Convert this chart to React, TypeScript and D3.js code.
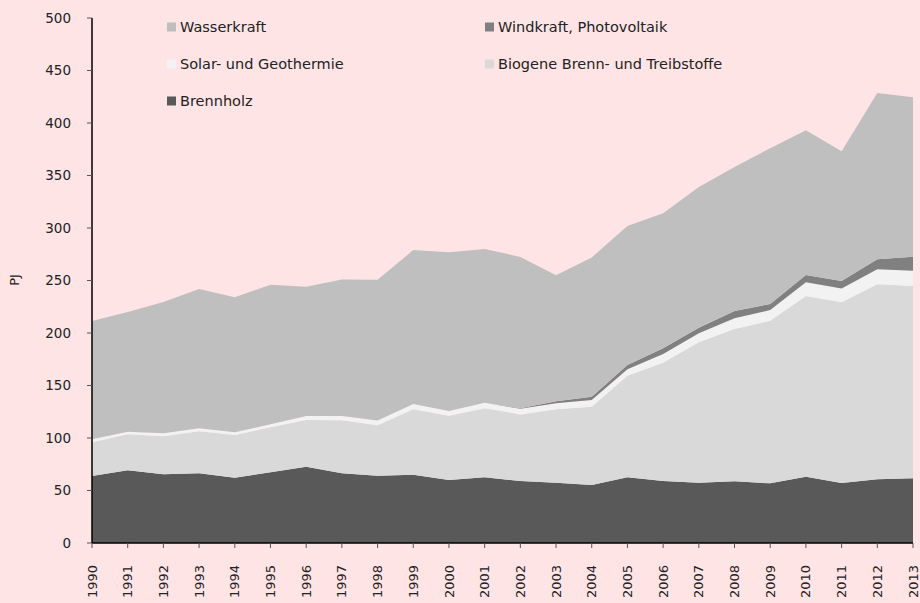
import React from "react";
import * as d3 from "d3";

const years = [1990,1991,1992,1993,1994,1995,1996,1997,1998,1999,2000,2001,2002,2003,2004,2005,2006,2007,2008,2009,2010,2011,2012,2013];
const brennholz = [63.8,69.2,65.4,66.4,62.2,67.3,72.7,66.4,64.1,65,60,62.6,59,57.4,55.2,62.6,59,57.4,58.7,56.8,63.2,57.1,60.7,61.6];
const biogene = [32.2,34.3,36.2,40,40.7,42.9,44.4,50.6,48,62.3,61.2,65.7,63.5,69.9,74.6,96.7,112.7,133.7,145.1,154.9,172,172.1,185.7,183.2];
const solarGeo = [2.8,2.5,2.9,2.8,2.5,2.8,3.9,4,4.5,5.1,4.5,5.3,5.4,5.7,6.4,6.1,8.3,8.6,10.2,10.2,13.1,13.3,14.2,14.5];
const windPV = [0,0,0,0,0,0,0,0,0,0,0,0,0.5,2,3.1,4.1,5.4,5.3,7,5.7,6.9,7,9.6,13.4];
const wasserkraft = [112.7,114,125,132.8,128.6,133,123,130,134,146.6,151.3,146.4,144.1,120,132.7,132.5,128.6,134,137,148.4,137.8,123.5,158.3,151.8];
const yTicks = [0,50,100,150,200,250,300,350,400,450,500];

const seriesKeys = ["brennholz","biogene","solar","wind","wasser"];
const seriesNames: Record<string,string> = {
  brennholz: "Brennholz",
  biogene: "Biogene Brenn- und Treibstoffe",
  solar: "Solar- und Geothermie",
  wind: "Windkraft, Photovoltaik",
  wasser: "Wasserkraft",
};
const colors: Record<string,string> = {
  brennholz: "#595959",
  biogene: "#d9d9d9",
  solar: "#f2f2f2",
  wind: "#808080",
  wasser: "#bfbfbf",
};

const legendItems = [
  { key: "wasser", col: 0, row: 0 },
  { key: "wind", col: 1, row: 0 },
  { key: "solar", col: 0, row: 1 },
  { key: "biogene", col: 1, row: 1 },
  { key: "brennholz", col: 0, row: 2 },
];

export default function App() {
  const W = 920, H = 603;
  const left = 92, right = 913, top = 18, bottom = 543;
  const x = d3.scaleLinear().domain([1990, 2013]).range([left, right]);
  const y = d3.scaleLinear().domain([0, 500]).range([bottom, top]);

  const table = years.map((yr, i) => ({
    year: yr,
    brennholz: brennholz[i],
    biogene: biogene[i],
    solar: solarGeo[i],
    wind: windPV[i],
    wasser: wasserkraft[i],
  }));
  const stack = d3.stack<any>().keys(seriesKeys)(table);
  const area = d3.area<any>()
    .x((d: any) => x(d.data.year))
    .y0((d: any) => y(d[0]))
    .y1((d: any) => y(d[1]));

  const font = "'DejaVu Sans', sans-serif";

  return (
    <svg width={W} height={H} style={{ position: "absolute", left: 0, top: 0 }} fontFamily={font}>
      <rect x={0} y={0} width={W} height={H} fill="#ffe4e6" />
      {stack.map((s: any) => (
        <path key={s.key} d={area(s) as string} fill={colors[s.key]} />
      ))}
      {/* y axis */}
      <line x1={left} x2={left} y1={top} y2={bottom} stroke="#000" strokeWidth={1.5} />
      {yTicks.map((t) => (
        <g key={t}>
          <line x1={left - 5} x2={left} y1={y(t)} y2={y(t)} stroke="#555" strokeWidth={1} />
          <text x={71} y={y(t)} dy="0.35em" textAnchor="end" fontSize={13.5} fill="#222">{t}</text>
        </g>
      ))}
      {/* x axis */}
      <line x1={left} x2={right} y1={bottom} y2={bottom} stroke="#000" strokeWidth={1.5} />
      {years.map((yr) => (
        <g key={yr}>
          <line x1={x(yr)} x2={x(yr)} y1={bottom} y2={bottom + 5} stroke="#555" strokeWidth={1} />
          <text transform={`translate(${x(yr)},${565}) rotate(-90)`} dy="0.35em" textAnchor="end" fontSize={13} fill="#222">{yr}</text>
        </g>
      ))}
      <text transform={`translate(14,280) rotate(-90)`} dy="0.35em" textAnchor="middle" fontSize={13} fill="#222">PJ</text>
      {legendItems.map((it) => {
        const lx = it.col === 0 ? 167 : 485;
        const ly = 27 + it.row * 37;
        return (
          <g key={it.key}>
            <rect x={lx} y={ly - 4.5} width={9} height={9} fill={colors[it.key]} />
            <text x={lx + 13} y={ly} dy="0.35em" fontSize={14.5} fill="#222">{seriesNames[it.key]}</text>
          </g>
        );
      })}
    </svg>
  );
}
